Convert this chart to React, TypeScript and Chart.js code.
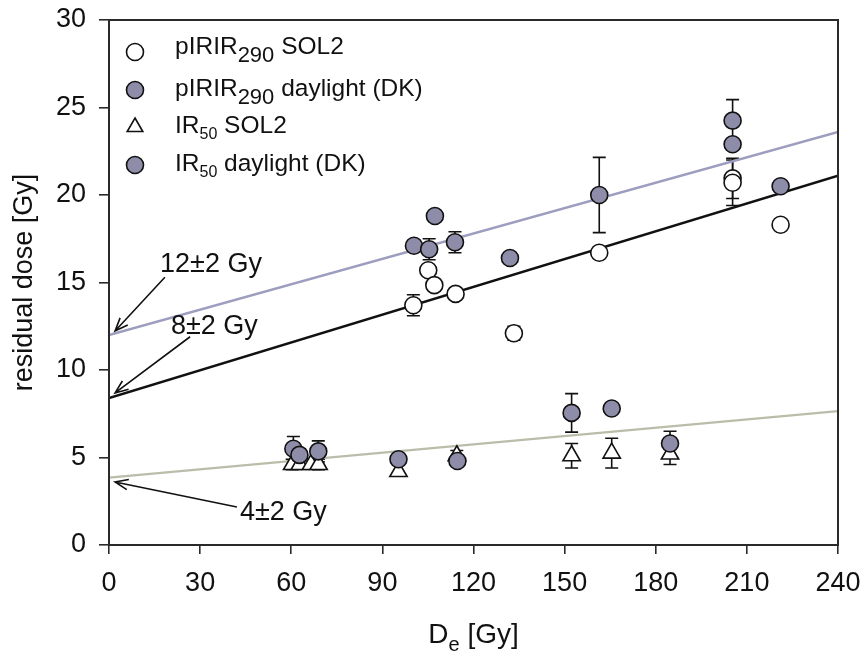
import React, { useEffect, useRef } from "react";
import { Chart, registerables } from "chart.js";

Chart.register(...registerables);

// ---------- data ----------
const xTickStep = 30;
const xMin = 0;
const xMax = 240;
const yTickStep = 5;
const yMin = 0;
const yMax = 30;

// pIRIR290 SOL2 (open circles)
const pirirSolX = [100.2, 105.1, 107.1, 114.1, 133.3, 161.4, 205.3, 205.3, 221.1];
const pirirSolY = [13.7, 15.7, 14.85, 14.35, 12.1, 16.7, 20.95, 20.7, 18.3];
const pirirSolErr = [0.6, 0, 0, 0, 0.4, 0.3, 1.15, 1.3, 0];

// pIRIR290 daylight (DK) (filled circles)
const pirirDayX = [100.4, 105.4, 107.3, 113.9, 132.0, 161.4, 205.3, 205.3, 221.1];
const pirirDayY = [17.1, 16.9, 18.8, 17.3, 16.4, 20.0, 24.25, 22.9, 20.5];
const pirirDayErr = [0, 0.6, 0, 0.6, 0, 2.15, 1.2, 0, 0];

// IR50 SOL2 (open triangles)
const ir50SolX = [60.3, 62.8, 66.5, 69.0, 95.3, 114.5, 152.3, 165.5, 184.7];
const ir50SolY = [4.6, 4.6, 4.6, 4.6, 4.2, 5.1, 5.1, 5.25, 5.2];
const ir50SolErr = [0.3, 0, 0, 0.3, 0, 0.3, 0.7, 0.85, 0.6];

// IR50 daylight (DK) (filled circles)
const ir50DayX = [60.7, 62.7, 68.9, 95.3, 114.7, 152.3, 165.5, 184.7];
const ir50DayY = [5.5, 5.15, 5.35, 4.9, 4.8, 7.55, 7.8, 5.8];
const ir50DayErr = [0.7, 0, 0.6, 0, 0.3, 1.1, 0, 0.7];

// fitted lines (end points)
const fitX = [0, 240];
const fitDaylightY = [12.0, 23.6];
const fitSolY = [8.4, 21.1];
const fitIrY = [3.85, 7.65];

// annotations (label + arrow, data coordinates)
const annoLabels = ["12\u00B12 Gy", "8\u00B12 Gy", "4\u00B12 Gy"];
const annoTextX = [16.8, 20.4, 43.1];
const annoTextY = [16.0, 12.5, 1.83];
const annoTailX = [18.4, 26.7, 42.1];
const annoTailY = [15.3, 11.9, 2.17];
const annoHeadX = [2.0, 2.0, 2.0];
const annoHeadY = [12.23, 8.69, 3.6];

// ---------- styles ----------
const FONT = '"Liberation Sans", Arial, sans-serif';
const INK = "#111111";
const FILL_PURPLE = "#8d8daa";

const toPts = (xs: number[], ys: number[]) => xs.map((x, i) => ({ x, y: ys[i] }));

type Part = [string, number, number];

function drawRich(ctx: CanvasRenderingContext2D, x: number, y: number, parts: Part[]) {
  let cx = x;
  for (const [t, size, off] of parts) {
    ctx.font = `${size}px ${FONT}`;
    ctx.fillText(t, cx, y + off);
    cx += ctx.measureText(t).width;
  }
}
function richWidth(ctx: CanvasRenderingContext2D, parts: Part[]) {
  let w = 0;
  for (const [t, size] of parts) {
    ctx.font = `${size}px ${FONT}`;
    w += ctx.measureText(t).width;
  }
  return w;
}

const legendRows: { sym: string; cy: number; base: number; parts: Part[] }[] = [
  { sym: "open", cy: 52, base: 54, parts: [["pIRIR", 24.5, 0], ["290", 22, 8], [" SOL2", 24.5, 0]] },
  { sym: "filled", cy: 90, base: 96, parts: [["pIRIR", 24.5, 0], ["290", 22, 8], [" daylight (DK)", 24.5, 0]] },
  { sym: "tri", cy: 127, base: 133, parts: [["IR", 24.5, 0], ["50", 16, 6], [" SOL2", 24.5, 0]] },
  { sym: "filled", cy: 165, base: 171, parts: [["IR", 24.5, 0], ["50", 16, 6], [" daylight (DK)", 24.5, 0]] },
];

const errorBarPlugin = {
  id: "errorBars",
  beforeDatasetsDraw(chart: any) {
    const { ctx } = chart;
    const xs = chart.scales.x;
    const ys = chart.scales.y;
    ctx.save();
    ctx.strokeStyle = INK;
    ctx.lineWidth = 1.6;
    chart.data.datasets.forEach((ds: any) => {
      const errs: number[] | undefined = ds.errors;
      if (!errs) return;
      ds.data.forEach((p: any, i: number) => {
        const e = errs[i];
        if (!e) return;
        const px = xs.getPixelForValue(p.x);
        const top = ys.getPixelForValue(p.y + e);
        const bot = ys.getPixelForValue(p.y - e);
        ctx.beginPath();
        ctx.moveTo(px, top);
        ctx.lineTo(px, bot);
        ctx.moveTo(px - 6.5, top);
        ctx.lineTo(px + 6.5, top);
        ctx.moveTo(px - 6.5, bot);
        ctx.lineTo(px + 6.5, bot);
        ctx.stroke();
      });
    });
    ctx.restore();
  },
};

const decorPlugin = {
  id: "decor",
  afterDraw(chart: any) {
    const { ctx, chartArea } = chart;
    const xs = chart.scales.x;
    const ys = chart.scales.y;
    ctx.save();
    // frame
    ctx.strokeStyle = "#2a2a2a";
    ctx.lineWidth = 2;
    ctx.strokeRect(chartArea.left, chartArea.top, chartArea.right - chartArea.left, chartArea.bottom - chartArea.top);

    // legend
    ctx.fillStyle = INK;
    ctx.textBaseline = "alphabetic";
    ctx.textAlign = "left";
    for (const row of legendRows) {
      const sx = 135;
      ctx.lineWidth = 1.6;
      ctx.strokeStyle = INK;
      ctx.beginPath();
      if (row.sym === "tri") {
        const r = 9;
        ctx.moveTo(sx, row.cy - r);
        ctx.lineTo(sx + r * 0.866, row.cy + r * 0.5);
        ctx.lineTo(sx - r * 0.866, row.cy + r * 0.5);
        ctx.closePath();
        ctx.fillStyle = "#ffffff";
      } else {
        ctx.arc(sx, row.cy, 8.5, 0, Math.PI * 2);
        ctx.fillStyle = row.sym === "filled" ? FILL_PURPLE : "#ffffff";
      }
      ctx.fill();
      ctx.stroke();
      ctx.fillStyle = INK;
      drawRich(ctx, 175, row.base, row.parts);
    }

    // annotations
    ctx.font = `27px ${FONT}`;
    ctx.textBaseline = "middle";
    ctx.strokeStyle = INK;
    ctx.lineWidth = 1.6;
    annoLabels.forEach((lab, i) => {
      ctx.fillStyle = INK;
      ctx.fillText(lab, xs.getPixelForValue(annoTextX[i]), ys.getPixelForValue(annoTextY[i]));
      const tx = xs.getPixelForValue(annoTailX[i]);
      const ty = ys.getPixelForValue(annoTailY[i]);
      const hx = xs.getPixelForValue(annoHeadX[i]);
      const hy = ys.getPixelForValue(annoHeadY[i]);
      ctx.beginPath();
      ctx.moveTo(tx, ty);
      ctx.lineTo(hx, hy);
      const ang = Math.atan2(ty - hy, tx - hx);
      const L = 14;
      const spread = 0.38;
      ctx.moveTo(hx + L * Math.cos(ang + spread), hy + L * Math.sin(ang + spread));
      ctx.lineTo(hx, hy);
      ctx.lineTo(hx + L * Math.cos(ang - spread), hy + L * Math.sin(ang - spread));
      ctx.stroke();
    });

    // axis titles
    ctx.fillStyle = INK;
    ctx.textBaseline = "alphabetic";
    const xParts: Part[] = [["D", 28, 0], ["e", 20, 8], [" [Gy]", 28, 0]];
    const w = richWidth(ctx, xParts);
    const cx = (chartArea.left + chartArea.right) / 2;
    drawRich(ctx, cx - w / 2, 643, xParts);

    ctx.translate(32, (chartArea.top + chartArea.bottom) / 2);
    ctx.rotate(-Math.PI / 2);
    ctx.textAlign = "center";
    ctx.font = `27px ${FONT}`;
    ctx.fillText("residual dose [Gy]", 0, 0);
    ctx.restore();
  },
};

export default function App() {
  const ref = useRef<HTMLCanvasElement | null>(null);

  useEffect(() => {
    document.body.style.margin = "0";
    document.body.style.overflow = "hidden";
    const canvas = ref.current;
    if (!canvas) return;

    const lineDs = (ys: number[], color: string, width: number) => ({
      type: "line" as const,
      data: toPts(fitX, ys),
      borderColor: color,
      borderWidth: width,
      pointRadius: 0,
      showLine: true,
      fill: false,
      order: 10,
    });

    const chart = new Chart(canvas, {
      type: "scatter",
      data: {
        datasets: [
          {
            label: "pIRIR290 daylight (DK)",
            data: toPts(pirirDayX, pirirDayY),
            errors: pirirDayErr,
            pointStyle: "circle",
            pointRadius: 8.5,
            backgroundColor: FILL_PURPLE,
            borderColor: INK,
            borderWidth: 1.6,
            order: 1,
          } as any,
          {
            label: "IR50 daylight (DK)",
            data: toPts(ir50DayX, ir50DayY),
            errors: ir50DayErr,
            pointStyle: "circle",
            pointRadius: 8.5,
            backgroundColor: FILL_PURPLE,
            borderColor: INK,
            borderWidth: 1.6,
            order: 2,
          } as any,
          {
            label: "IR50 SOL2",
            data: toPts(ir50SolX, ir50SolY),
            errors: ir50SolErr,
            pointStyle: "triangle",
            pointRadius: 10,
            backgroundColor: "#ffffff",
            borderColor: INK,
            borderWidth: 1.6,
            order: 4,
          } as any,
          {
            label: "pIRIR290 SOL2",
            data: toPts(pirirSolX, pirirSolY),
            errors: pirirSolErr,
            pointStyle: "circle",
            pointRadius: 8.5,
            backgroundColor: "#ffffff",
            borderColor: INK,
            borderWidth: 1.6,
            order: 5,
          } as any,
          lineDs(fitDaylightY, "#9d9dbf", 2.6),
          lineDs(fitSolY, "#111111", 2.6),
          lineDs(fitIrY, "#babda9", 2.2),
        ],
      },
      options: {
        responsive: false,
        animation: false,
        layout: { padding: { left: 0, right: 29, top: 20, bottom: 0 } },
        plugins: {
          legend: { display: false },
          tooltip: { enabled: false },
        },
        scales: {
          x: {
            type: "linear",
            min: xMin,
            max: xMax,
            ticks: {
              stepSize: xTickStep,
              color: INK,
              padding: 13,
              font: { family: FONT, size: 27 },
              maxRotation: 0,
            },
            grid: {
              drawOnChartArea: false,
              drawTicks: true,
              tickLength: 9,
              color: "#2a2a2a",
              lineWidth: 1.6,
            },
            border: { display: true, color: "#2a2a2a", width: 2 },
            afterFit: (s: any) => {
              s.height = 113;
              s.paddingLeft = 0;
              s.paddingRight = 0;
            },
          },
          y: {
            type: "linear",
            min: yMin,
            max: yMax,
            ticks: {
              stepSize: yTickStep,
              color: INK,
              padding: 13,
              font: { family: FONT, size: 27 },
            },
            grid: {
              drawOnChartArea: false,
              drawTicks: true,
              tickLength: 10,
              color: "#2a2a2a",
              lineWidth: 1.6,
            },
            border: { display: true, color: "#2a2a2a", width: 2 },
            afterFit: (s: any) => {
              s.width = 109;
              s.paddingTop = 0;
              s.paddingBottom = 0;
            },
          },
        },
      } as any,
      plugins: [errorBarPlugin, decorPlugin],
    });

    return () => chart.destroy();
  }, []);

  return (
    <div style={{ width: 867, height: 658 }}>
      <canvas ref={ref} width={867} height={658} style={{ display: "block", width: 867, height: 658 }} />
    </div>
  );
}
